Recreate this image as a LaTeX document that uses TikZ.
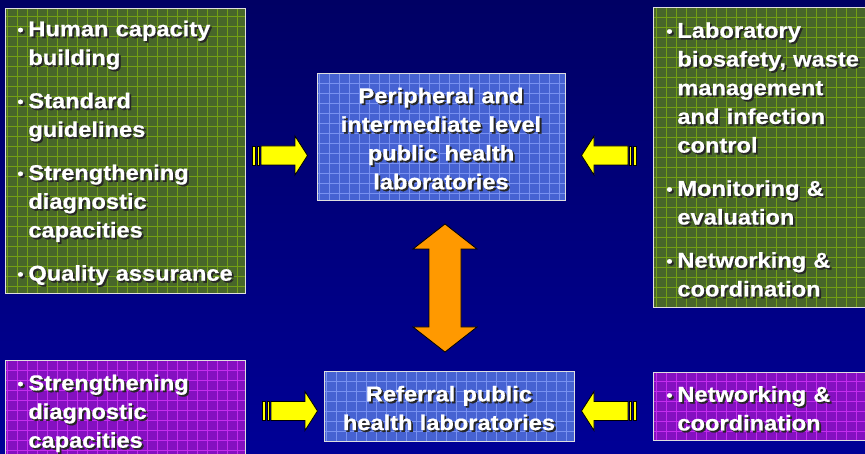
\documentclass[tikz,border=0pt]{standalone}
\usepackage{fontspec}
\setmainfont{Liberation Sans}
\newfontfamily\boxfont[FakeStretch=1.1, BoldFeatures={FakeBold=0.6}]{Liberation Sans}
\usetikzlibrary{positioning}

\definecolor{navytop}{RGB}{0,0,100}
\definecolor{navybot}{RGB}{0,0,150}
\definecolor{olivebox}{RGB}{72,102,42}
\definecolor{olivegrid}{RGB}{115,160,20}
\definecolor{bluebox}{RGB}{70,98,210}
\definecolor{bluegrid}{RGB}{120,145,240}
\definecolor{violetbox}{RGB}{132,16,192}
\definecolor{violetgrid}{RGB}{196,44,238}
\definecolor{arrowyellow}{RGB}{255,255,0}
\definecolor{arroworange}{RGB}{255,153,0}

% text with a dark drop shadow
\newcommand\sh[1]{\leavevmode\rlap{\kern1.8pt\raisebox{-1.8pt}{\color{black!85}#1}}#1}
\newcommand\bl{\makebox[11pt][l]{\raisebox{1pt}{\fontsize{16}{16}\selectfont •}}}
\newcommand\ind{\leavevmode\hspace*{11pt}}

\begin{document}
\begin{tikzpicture}[
        x=1pt, y=-1pt,
        gridbox/.style 2 args={
            draw=white!75!gray,
            line width=0.8pt,
            fill=#1,
            inner xsep=12pt,
            inner ysep=0pt,
            text=white,
            font=\boxfont\bfseries\fontsize{21.5}{28.7}\selectfont,
            execute at begin node={\leavevmode\rule{0pt}{21.5pt}},
            path picture={
                \draw[#2, line width=0.8pt]
                    (path picture bounding box.south west)
                    grid[step=10pt] (path picture bounding box.north east);
            }
        },
        arrowline/.style={draw=black, line width=0.8pt, fill=arrowyellow, line join=miter},
        yarrow/.pic={
            \draw[arrowline] (0,-9.5) -- (34,-9.5) -- (34,-19.5) -- (46.5,0)
                -- (34,19.5) -- (34,9.5) -- (0,9.5) -- cycle;
            \draw[arrowline] (-3.8,-9.5) rectangle (-1.2,9.5);
            \draw[arrowline] (-8.2,-9.5) rectangle (-5.8,9.5);
        }
    ]
    % background
    \useasboundingbox (0,0) rectangle (865,454);
    \shade[top color=navytop, bottom color=navybot] (0,0) rectangle (865,454);

    % upper row
    \node[gridbox={olivebox}{olivegrid}, anchor=north west, minimum width=240pt,
          minimum height=285pt, text width=216pt, align=left] (capacity) at (5,8)
        {\sh{\bl Human capacity}\\ \ind\sh{building}\\[14.5pt]
         \sh{\bl Standard}\\ \ind\sh{guidelines}\\[14.5pt]
         \sh{\bl Strengthening}\\ \ind\sh{diagnostic}\\ \ind\sh{capacities}\\[14.5pt]
         \sh{\bl Quality assurance}};
    \node[gridbox={bluebox}{bluegrid}, minimum width=248pt, minimum height=127pt,
          text width=224pt, align=center] (periph) at (441,136.5)
        {\sh{Peripheral and}\\ \sh{intermediate level}\\ \sh{public health}\\ \sh{laboratories}};
    \node[gridbox={olivebox}{olivegrid}, anchor=north west, inner xsep=13pt,
          minimum width=224pt, minimum height=300pt, text width=198pt, align=left] (biosafety) at (653,7)
        {\sh{\bl Laboratory}\\ \ind\sh{biosafety, waste}\\ \ind\sh{management}\\
         \ind\sh{and infection}\\ \ind\sh{control}\\[14.5pt]
         \sh{\bl Monitoring \&}\\ \ind\sh{evaluation}\\[14.5pt]
         \sh{\bl Networking \&}\\ \ind\sh{coordination}};

    % lower row
    \node[gridbox={violetbox}{violetgrid}, anchor=north west, minimum width=240pt,
          minimum height=102pt, text width=216pt, align=left] (diagnostic) at (5,360)
        {\sh{\bl Strengthening}\\ \ind\sh{diagnostic}\\ \ind\sh{capacities}};
    \node[gridbox={bluebox}{bluegrid}, minimum width=250pt, minimum height=70pt,
          text width=226pt, align=center] (referral) at (449,406)
        {\sh{Referral public}\\ \sh{health laboratories}};
    \node[gridbox={violetbox}{violetgrid}, anchor=north west, inner xsep=13pt,
          minimum width=224pt, minimum height=68pt, text width=198pt, align=left] (network) at (653,372)
        {\sh{\bl Networking \&}\\ \ind\sh{coordination}};

    % block arrows
    \pic (capin) at (261,155.5) {yarrow};
    \pic[rotate=180] (bioin) at (628,155.5) {yarrow};
    \pic (diagin) at (271,411) {yarrow};
    \pic[rotate=180] (netin) at (628,411) {yarrow};

    % up-down arrow between the levels
    \draw[draw=black, line width=0.8pt, fill=arroworange] (445,224) -- (477,249) -- (461,249)
        -- (461,327) -- (477,327) -- (445,352) -- (413,327) -- (429,327)
        -- (429,249) -- (413,249) -- cycle;
\end{tikzpicture}
\end{document}
